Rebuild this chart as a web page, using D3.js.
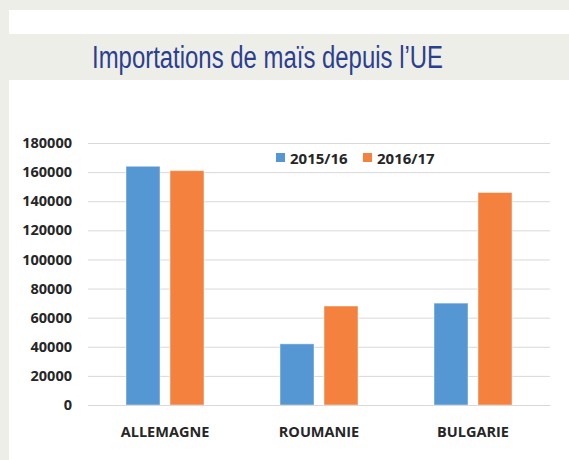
<!DOCTYPE html>
<html>
<head>
<meta charset="utf-8">
<script src="https://cdn.jsdelivr.net/npm/d3@7"></script>
<style>
  html, body { margin: 0; padding: 0; background: #eeeee8; }
  svg { display: block; }
</style>
</head>
<body>
<svg id="chart" width="569" height="460"></svg>
<script>
const title = "Importations de maïs depuis l\u2019UE";
const categories = ["ALLEMAGNE", "ROUMANIE", "BULGARIE"];
const series = ["2015/16", "2016/17"];
const values2015 = [164000, 42000, 70000];
const values2016 = [161000, 68000, 146000];
const yTicks = [0, 20000, 40000, 60000, 80000, 100000, 120000, 140000, 160000, 180000];
const colors = ["#5597d3", "#f4813d"];

const seriesValues = [values2015, values2016];
const svg = d3.select("#chart");

// page background panels
svg.append("rect").attr("x", 9).attr("y", 10).attr("width", 560).attr("height", 450).attr("fill", "#ffffff");
svg.append("rect").attr("x", 9).attr("y", 34).attr("width", 560).attr("height", 46).attr("fill", "#eeeee8");

svg.append("text")
  .attr("x", 92).attr("y", 67.5)
  .attr("textLength", 351).attr("lengthAdjust", "spacingAndGlyphs")
  .style("font-family", "'Liberation Sans Narrow', 'Liberation Sans', Arial, sans-serif")
  .style("font-size", "31px")
  .attr("fill", "#2b3f8e")
  .text(title);

const plot = { left: 88, right: 550, top: 143, bottom: 405 };

const y = d3.scaleLinear().domain([0, 180000]).range([plot.bottom, plot.top]);
const x0 = d3.scaleBand().domain(categories).range([plot.left, plot.right]).padding(0);
const x1 = d3.scaleBand().domain(series).range([0, x0.bandwidth()]).paddingInner(0.2273).paddingOuter(0.864);

const fontStyle = sel => sel
  .attr("fill", "#262626")
  .style("font-family", "'Open Sans', sans-serif")
  .style("font-weight", "bold")
  .style("font-size", "14.5px");

// gridlines
const yAxis = d3.axisLeft(y).tickValues(yTicks).tickSize(-(plot.right - plot.left)).tickPadding(16).tickFormat(d3.format("d"));
const gy = svg.append("g").attr("transform", `translate(${plot.left},0)`).call(yAxis);
gy.select(".domain").remove();
gy.selectAll(".tick line").attr("stroke", "#d9d9d9").attr("stroke-width", 1);
gy.selectAll(".tick text").call(fontStyle);

// bars
const data = categories.map((c, i) => ({ cat: c, vals: series.map((s, j) => ({ s, v: seriesValues[j][i], j })) }));
const groups = svg.append("g").selectAll("g").data(data).join("g")
  .attr("transform", d => `translate(${x0(d.cat)},0)`);
groups.selectAll("rect").data(d => d.vals).join("rect")
  .attr("x", d => x1(d.s))
  .attr("width", x1.bandwidth())
  .attr("y", d => y(d.v))
  .attr("height", d => y(0) - y(d.v))
  .attr("fill", d => colors[d.j])
  .attr("stroke", "rgba(255,255,255,0.45)")
  .attr("stroke-width", 1);

// x axis
const xAxis = d3.axisBottom(x0).tickSize(0).tickPadding(22);
const gx = svg.append("g").attr("transform", `translate(0,${plot.bottom})`).call(xAxis);
gx.select(".domain").attr("stroke", "#d9d9d9");
gx.selectAll(".tick text").call(fontStyle);

// legend
const legendPos = [276, 363];
const legend = svg.append("g").selectAll("g").data(series).join("g")
  .attr("transform", (d, i) => `translate(${legendPos[i]},153)`);
legend.append("rect").attr("width", 9).attr("height", 9).attr("fill", (d, i) => colors[i]);
legend.append("text")
  .attr("x", 14).attr("y", 11)
  .call(fontStyle)
  .style("font-size", "15px")
  .text(d => d);
</script>
</body>
</html>
